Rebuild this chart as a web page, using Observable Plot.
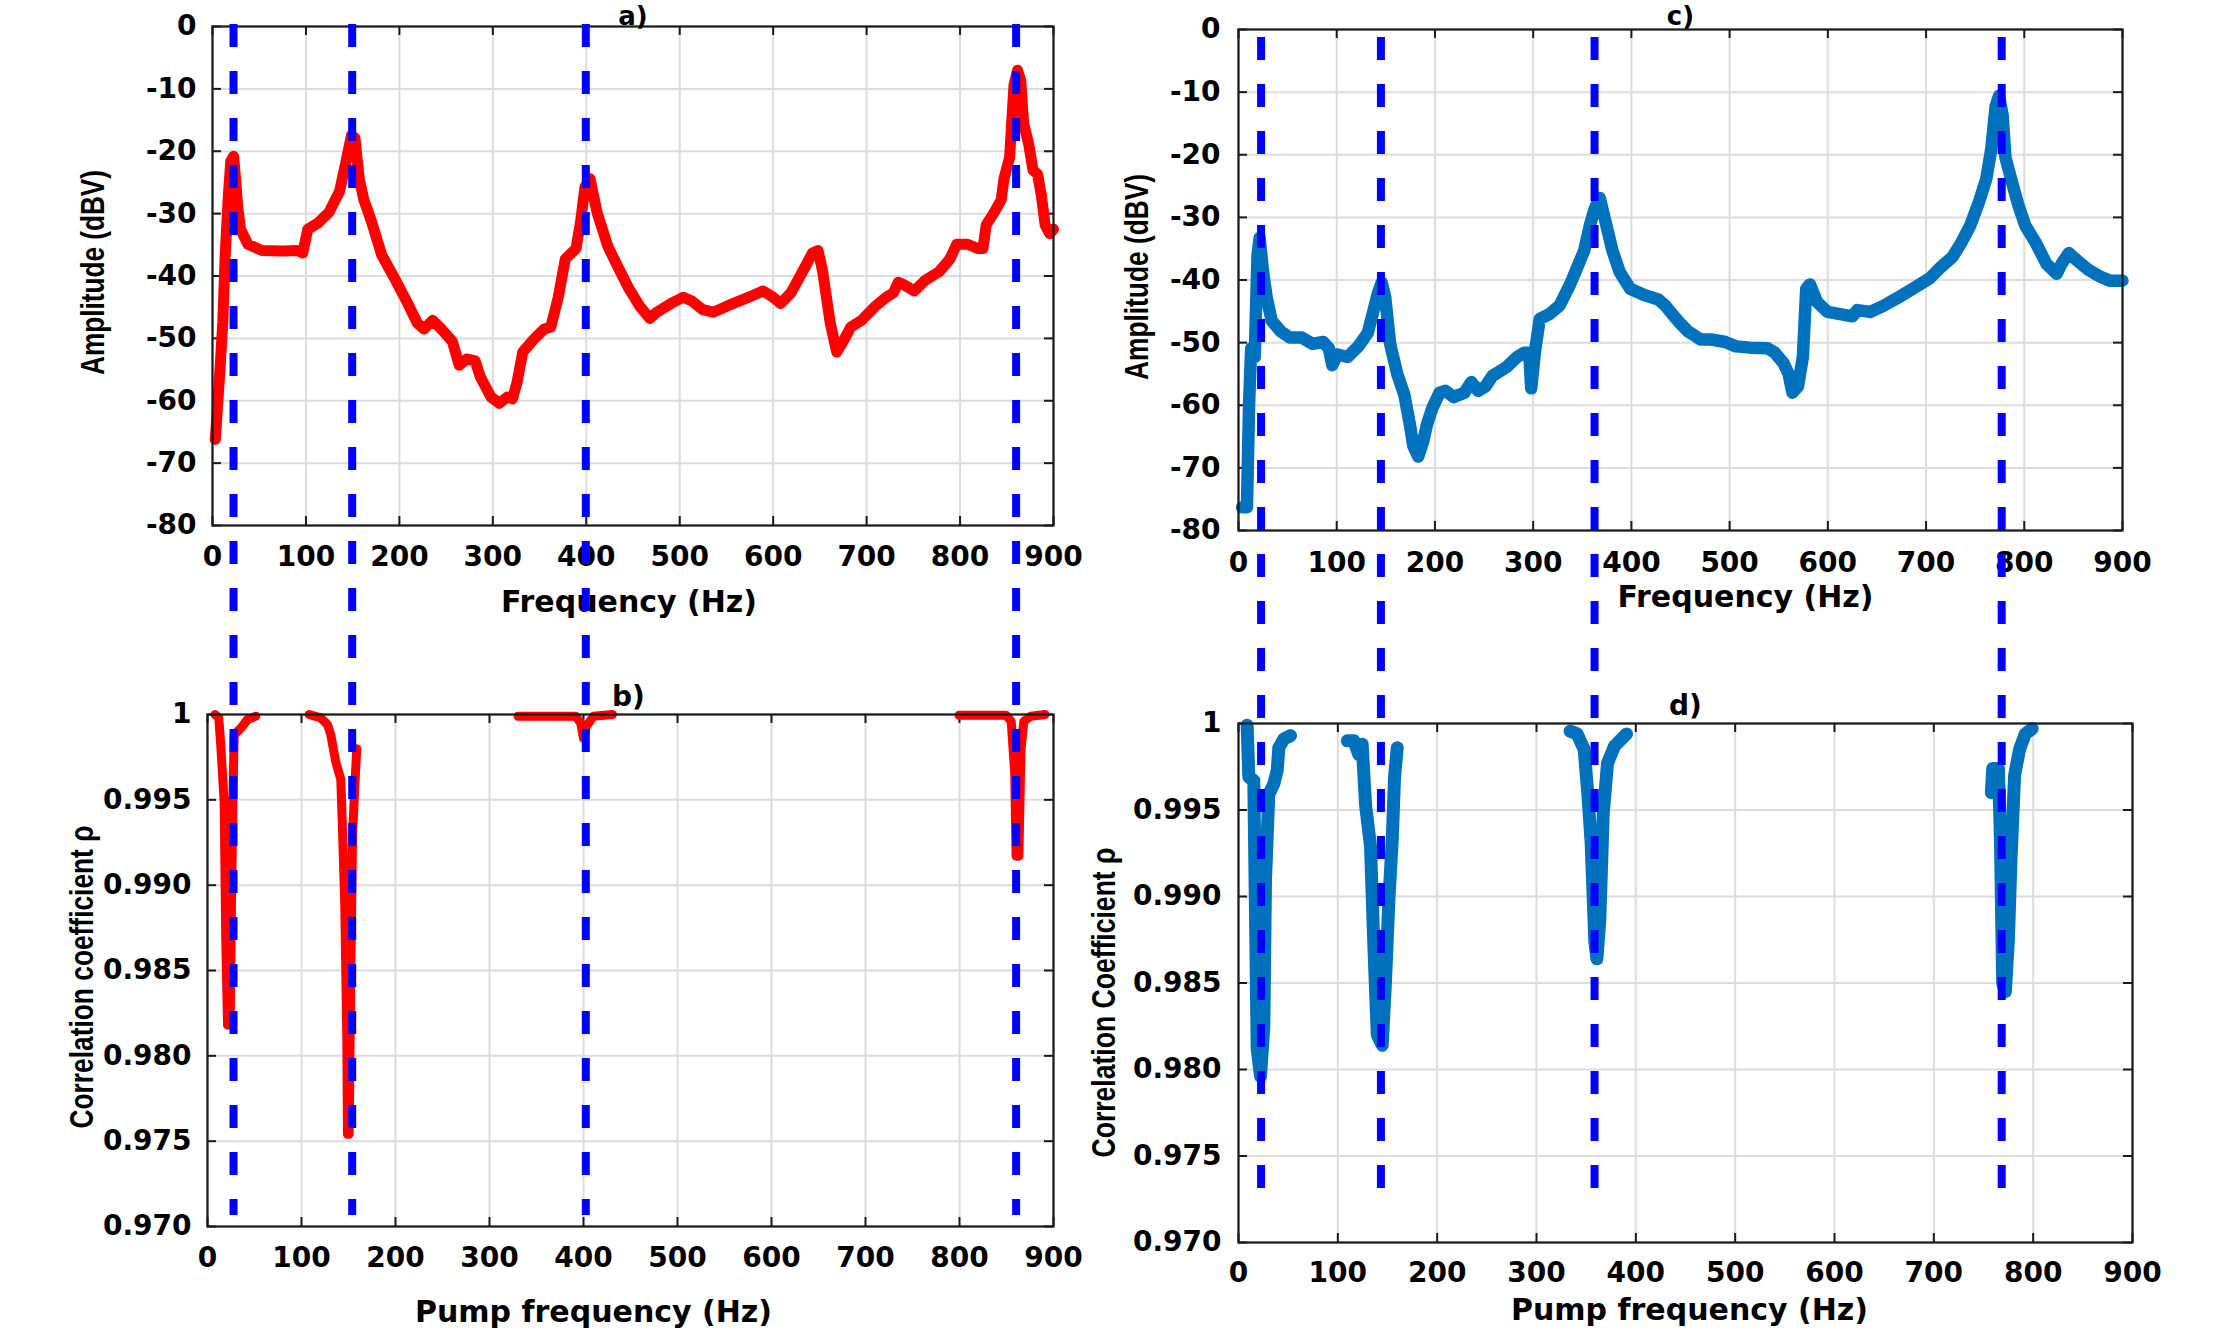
<!DOCTYPE html>
<html><head><meta charset="utf-8">
<script src="https://cdn.jsdelivr.net/npm/d3@7"></script>
<script src="https://cdn.jsdelivr.net/npm/@observablehq/plot@0.6"></script>
<style>
html,body{margin:0;padding:0;background:#fff;}
#fig{position:relative;width:2214px;height:1330px;overflow:hidden;background:#fff;}
#fig svg{position:absolute;overflow:visible;}
</style></head><body><div id="fig"></div>
<script>
// ---- tick values ----
const freqTicks = [0,100,200,300,400,500,600,700,800,900];
const ampTicks = [-80,-70,-60,-50,-40,-30,-20,-10,0];
const rhoTicks = [0.970,0.975,0.980,0.985,0.990,0.995,1];

// ---- resonance markers (Hz) ----
const leftResonances = [22.5,149.5,399.5,860];
const rightResonances = [23,145,362.5,777];

// ---- panel a: amplitude (red) ----
const aHz = [3,8,11,13.6,17,19.6,22.6,25,27,30,37.8,52.9,75.5,90.6,96.6,102,113,124.6,136,143,148.7,152.5,157,162,170,181,196,207.6,219,226.5,235.6,245,256.7,264,272,281,287,298,307,315.6,321,326,332,343.5,355,362,370,377.5,389,394,398.6,404,411.5,423,434,445.5,457,468,475.6,490.8,504,513,524.7,536,551,574,589,600,608,619,634,642,648,653,661,668,676,683,694.6,709.7,721,728.6,734,740,751,762.6,777.7,789,796.5,808,819,824.5,828,836.5,844,847,853,857.7,861.5,865,868,873.5,878,883,887,891,896,900];
const aDb = [-66.2,-55,-47.5,-36.6,-27,-21.6,-20.8,-25,-29,-32.5,-34.9,-35.9,-36,-35.9,-36.3,-32.5,-31.5,-29.8,-26.4,-21.6,-17.4,-17.9,-24.4,-27.8,-31.2,-36.6,-40.7,-44,-47.5,-48.5,-47.1,-48.5,-50.5,-54.3,-53.3,-53.6,-56.3,-59.4,-60.4,-59.4,-59.7,-57,-52.2,-50.2,-48.5,-48.2,-43.4,-37.3,-35.6,-31.2,-25.7,-24.4,-29.8,-35.2,-38.6,-42,-44.8,-46.8,-45.8,-44.4,-43.4,-44,-45.4,-45.8,-44.8,-43.4,-42.4,-43.4,-44.4,-42.7,-38.6,-36.3,-35.9,-39.3,-47.5,-52.2,-50.2,-48.2,-47.1,-44.8,-43.4,-42.7,-41,-41.4,-42.4,-40.7,-39.3,-37.3,-34.9,-34.9,-35.6,-35.6,-31.8,-29.8,-27.8,-24.4,-21,-9.4,-7,-8.7,-15.5,-18.9,-23,-23.7,-27.1,-31.8,-33.2,-32.5];

// ---- panel c: amplitude (blue) ----
const cHz = [3.6,8.6,10.8,12.9,16.5,19.4,21.5,25,28.7,33.8,43,52.4,64.6,75.4,86.2,92,95.5,100.6,111,122,131.5,136.5,142,145.8,149.4,154.4,161.6,168.8,174.5,178,183,188,191.8,197.5,204.7,210.5,219,229.9,237,244,251.4,258.6,273,283.7,291,296,298,301.7,306.7,316,326.8,337.6,344.8,352,357.7,362.7,367.8,373.5,380.7,388,398.7,413,427.4,434.6,441.8,449,457.6,464.7,470.5,481.3,495.6,506.4,521,538.7,546,555,560,564,569.6,574.6,578,581.8,589,599.8,614,625,630,643,657,671.6,689.6,704,714.7,727,736,745,754,761.4,766.4,770.8,774.3,778,780.8,786.5,793.7,801,811.5,822.5,833,838,845.4,854.8,865.5,876.3,887,900];
const cDb = [-76.3,-76.3,-59.7,-50.9,-52.3,-36,-33.3,-38.7,-42.8,-46.5,-48.2,-49.2,-49.2,-50.2,-49.9,-50.9,-53.6,-51.9,-52.3,-50.6,-48.5,-45.5,-42.1,-40.4,-42.8,-50.2,-55,-58.3,-63.1,-66.5,-68.2,-65.8,-63.1,-60.4,-58,-57.7,-58.7,-58,-56.3,-57.7,-57,-55.3,-53.9,-52.3,-51.6,-51.6,-57.3,-51.6,-46.2,-45.5,-44.1,-40.7,-38,-35.3,-31.3,-28.6,-26.9,-30.6,-35.3,-38.7,-41.4,-42.4,-43.1,-44.1,-45.5,-46.8,-48.2,-48.9,-49.5,-49.5,-49.9,-50.6,-50.8,-50.9,-51.6,-53.3,-55,-58,-57,-52.3,-41.4,-40.7,-43.5,-45.1,-45.5,-45.8,-44.8,-45.1,-44.1,-42.8,-41.1,-39.7,-38,-36.3,-34,-31.3,-27.5,-23.8,-19.1,-12.3,-10.6,-13.7,-20.4,-23.8,-27.9,-31.3,-34,-37.4,-39,-37.4,-35.7,-37,-38.4,-39.4,-40.1,-40.1];

// ---- panel b: correlation (red), segments ----
const bHz  = [8,12,14.1,17.7,19.4,21.3,24.1,25.5,27.3,28.4,35.4,42.5,51.4,
              108.1,120.5,127.7,131.2,136.5,141.8,143.6,146,148.2,148.9,150.7,152.5,154.3,156.7,158.8,
              330.3,365.5,391.8,397,400,403,410.6,430.8,
              799.4,849.7,855,858.7,860.2,863.2,865.4,868.4,875.9,891];
const bRho = [1.0,0.9998,0.9982,0.9949,0.9869,0.9818,0.9818,0.9889,0.9958,0.9988,0.9992,0.9997,0.9999,
              1.0,0.9998,0.9994,0.9988,0.9972,0.9962,0.9933,0.9889,0.981,0.9754,0.9754,0.985,0.9929,0.9958,0.998,
              0.9999,0.9999,0.9999,0.9995,0.9986,0.9993,0.9999,1.0,
              0.99995,0.99995,0.9996,0.9966,0.9917,0.9917,0.9979,0.9996,0.9999,1.0];
const bSeg = [1,1,1,1,1,1,1,1,1,1,1,1,1, 2,2,2,2,2,2,2,2,2,2,2,2,2,2,2, 3,3,3,3,3,3,3,3, 4,4,4,4,4,4,4,4,4,4];

// ---- panel d: correlation (blue), segments ----
const dHz  = [8.7,10.4,15.4,17.1,18.8,22.2,25.5,27.2,30.5,35.5,39,40.6,45.6,52.4,
              109.5,116.1,121.1,124.5,127.9,132.9,136.3,139.7,144.7,148,151.4,154.8,157.1,159.8,
              333.8,340.9,348,351.6,355,358.7,360.8,363.7,367.2,371.5,378.6,390.7,
              757.9,759.3,765,767,769.3,772,775,777.8,781.3,786.3,792,799];
const dRho = [0.9999,0.9969,0.9967,0.989,0.9812,0.9796,0.9825,0.991,0.9959,0.9965,0.9973,0.9986,0.9991,0.9993,
              0.999,0.999,0.9982,0.9988,0.9953,0.9929,0.9871,0.982,0.9814,0.9851,0.9898,0.9933,0.9969,0.9986,
              0.99956,0.9994,0.9985,0.996,0.9931,0.9874,0.9864,0.9886,0.9948,0.9977,0.9987,0.9994,
              0.996,0.9974,0.9974,0.9935,0.985,0.9845,0.9874,0.9923,0.997,0.9985,0.9994,0.9997];
const dSeg = [1,1,1,1,1,1,1,1,1,1,1,1,1,1, 2,2,2,2,2,2,2,2,2,2,2,2,2,2, 3,3,3,3,3,3,3,3,3,3,3,3, 4,4,4,4,4,4,4,4,4,4,4,4];

const RED = "#ff0000", BLUE = "#0072bd", DASH = "#0000ff", AX = "#1a1a1a", GRID = "#dcdcdc";
const rows = (xs, ys, zs) => xs.map((x, i) => ({x, y: ys[i], z: zs ? zs[i] : 0}));

function panel(cfg) {
  const {svgLeft, svgTop, svgW, svgH, box} = cfg;
  const mL = box.x0 - svgLeft, mR = svgLeft + svgW - box.x1;
  const mT = box.y0 - svgTop, mB = svgTop + svgH - box.y1;
  const pw = box.x1 - box.x0, ph = box.y1 - box.y0;
  const tk = 9;
  const marks = [
    Plot.gridX(freqTicks, {stroke: GRID, strokeOpacity: 1, strokeWidth: 2}),
    Plot.gridY(cfg.yTicks, {stroke: GRID, strokeOpacity: 1, strokeWidth: 2}),
    Plot.ruleX(freqTicks, {stroke: AX, strokeWidth: 2, insetTop: ph - tk}),
    Plot.ruleX(freqTicks, {stroke: AX, strokeWidth: 2, insetBottom: ph - tk}),
    Plot.ruleY(cfg.yTicks, {stroke: AX, strokeWidth: 2, insetLeft: pw - tk}),
    Plot.ruleY(cfg.yTicks, {stroke: AX, strokeWidth: 2, insetRight: pw - tk}),
    Plot.line(cfg.data, {x: "x", y: "y", z: "z", stroke: cfg.color, strokeWidth: cfg.sw,
      strokeLinejoin: "round", strokeLinecap: "round"}),
    Plot.frame({stroke: AX, strokeWidth: 2.2}),
    Plot.axisX({ticks: freqTicks, tickSize: 0, tickPadding: cfg.xPad, label: null,
      tickFormat: d => String(d), fontSize: 28}),
    Plot.axisY({ticks: cfg.yTicks, tickSize: 0, tickPadding: cfg.yPad, label: null,
      tickFormat: cfg.yFormat, fontSize: 28}),
    Plot.text([cfg.title], {text: d => d, frameAnchor: "top", lineAnchor: "middle", textAnchor: "middle",
      dx: cfg.titleD[0], dy: cfg.titleD[1], fontSize: cfg.titleSize || 28}),
    Plot.text([cfg.xLabel], {text: d => d, frameAnchor: "bottom", lineAnchor: "middle", textAnchor: "middle",
      dx: cfg.xLabD[0], dy: cfg.xLabD[1], fontSize: 30}),
    Plot.text([cfg.yLabel], {text: d => d, frameAnchor: "left", lineAnchor: "middle", textAnchor: "middle",
      rotate: -90, dx: cfg.yLabD[0], dy: cfg.yLabD[1], fontSize: 34,
      fontFamily: "'Liberation Sans', Arial, sans-serif", fontWeight: "bold"})
  ];
  if (cfg.dashes) {
    marks.push(Plot.ruleX(cfg.dashes.values, {x: d => d, stroke: DASH, strokeWidth: 8,
      strokeDasharray: "23,24", insetTop: cfg.dashes.top, insetBottom: cfg.dashes.bottom}));
  }
  const svg = Plot.plot({
    width: svgW, height: svgH,
    marginLeft: mL, marginRight: mR, marginTop: mT, marginBottom: mB,
    x: {domain: [0, 900]},
    y: {domain: cfg.yDomain},
    style: {fontFamily: "'DejaVu Sans', sans-serif", fontWeight: "bold", fontSize: "28px",
      color: "#000", background: "transparent", overflow: "visible"},
    marks
  });
  // condense the rotated y-axis title to the reference's length
  for (const t of svg.querySelectorAll("text")) {
    if (t.textContent === cfg.yLabel) {
      t.setAttribute("textLength", cfg.yLabLen);
      t.setAttribute("lengthAdjust", "spacingAndGlyphs");
    }
  }
  svg.style.left = svgLeft + "px";
  svg.style.top = svgTop + "px";
  svg.style.position = "absolute";
  svg.style.overflow = "visible";
  return svg;
}

const fig = document.getElementById("fig");
const intFmt = d => String(d);
const rhoFmt = d => d === 1 ? "1" : d.toFixed(3);

const pb = panel({
  svgLeft: 0, svgTop: 640, svgW: 1107, svgH: 690,
  box: {x0: 207, x1: 1053, y0: 714, y1: 1226},
  yDomain: [0.970, 1], yTicks: rhoTicks, yFormat: rhoFmt,
  data: rows(bHz, bRho, bSeg), color: RED, sw: 9,
  xPad: 21, yPad: 16,
  title: "b)", titleD: [-2, -17],
  xLabel: "Pump frequency (Hz)", xLabD: [-37, 86],
  yLabel: "Correlation coefficient ρ", yLabD: [-125, 6.5], yLabLen: 303
});
const pd = panel({
  svgLeft: 1107, svgTop: 640, svgW: 1107, svgH: 690,
  box: {x0: 1238, x1: 2132, y0: 723, y1: 1242},
  yDomain: [0.970, 1], yTicks: rhoTicks, yFormat: rhoFmt,
  data: rows(dHz, dRho, dSeg), color: BLUE, sw: 13,
  xPad: 20, yPad: 17,
  title: "d)", titleD: [0, -17],
  xLabel: "Pump frequency (Hz)", xLabD: [4, 68],
  yLabel: "Correlation Coefficient ρ", yLabD: [-134, 19.5], yLabLen: 310
});
const pa = panel({
  svgLeft: 0, svgTop: 0, svgW: 1107, svgH: 640,
  box: {x0: 212, x1: 1053, y0: 26, y1: 525},
  yDomain: [-80, 0], yTicks: ampTicks, yFormat: intFmt,
  data: rows(aHz, aDb), color: RED, sw: 11,
  xPad: 21, yPad: 16,
  title: "a)", titleD: [0, -10], titleSize: 26,
  xLabel: "Frequency (Hz)", xLabD: [-4, 77],
  yLabel: "Amplitude (dBV)", yLabD: [-119, -3.5], yLabLen: 205,
  dashes: {values: leftResonances, top: -2, bottom: -690}
});
const pc = panel({
  svgLeft: 1107, svgTop: 0, svgW: 1107, svgH: 640,
  box: {x0: 1238, x1: 2122, y0: 29, y1: 530},
  yDomain: [-80, 0], yTicks: ampTicks, yFormat: intFmt,
  data: rows(cHz, cDb), color: BLUE, sw: 12.5,
  xPad: 22, yPad: 18,
  title: "c)", titleD: [0, -13], titleSize: 26,
  xLabel: "Frequency (Hz)", xLabD: [65, 67],
  yLabel: "Amplitude (dBV)", yLabD: [-101, -3], yLabLen: 206,
  dashes: {values: rightResonances, top: 8, bottom: -675}
});
fig.append(pb, pd, pa, pc);
</script></body></html>
